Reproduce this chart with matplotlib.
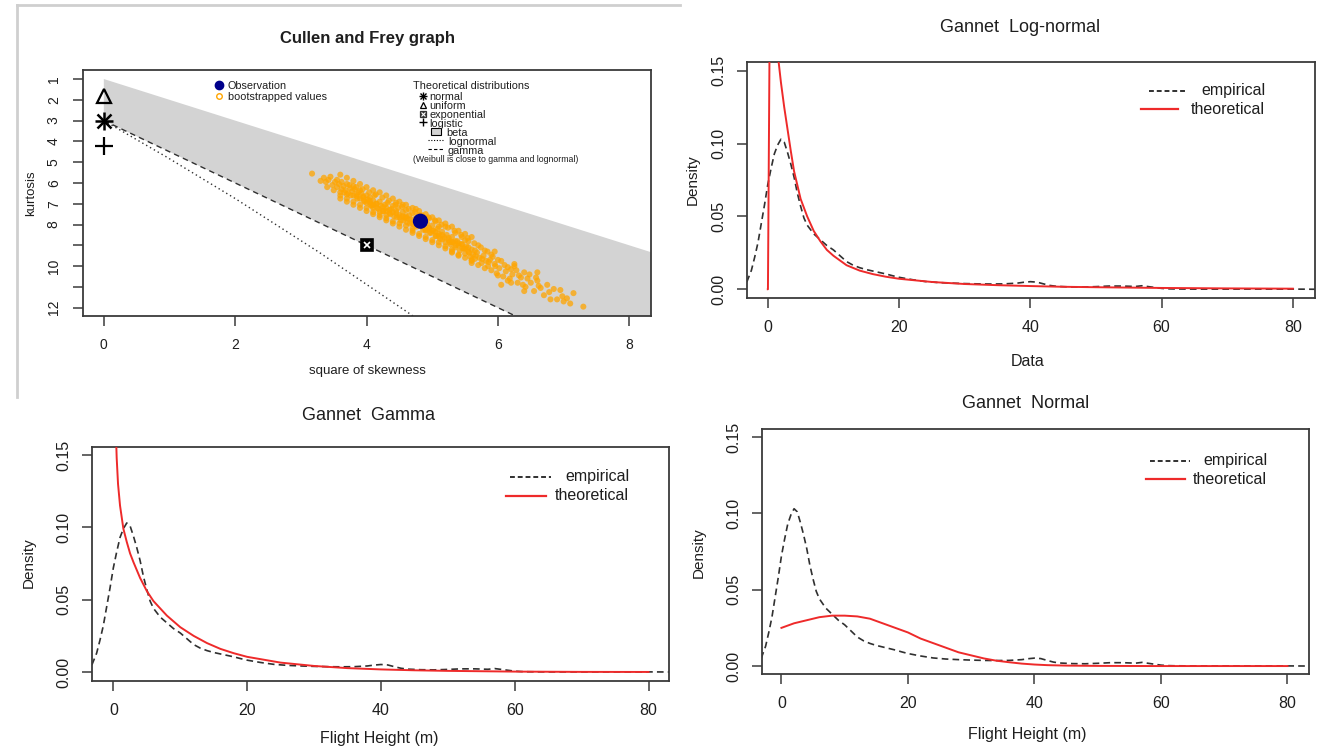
import matplotlib
matplotlib.use("Agg")
import matplotlib.pyplot as plt
from matplotlib.lines import Line2D
from matplotlib.patches import Polygon, Rectangle

plt.rcParams['font.family'] = ['Liberation Sans', 'DejaVu Sans']

# ---------------- data ----------------
# Cullen and Frey graph
beta_upper_s = [0.0, 9.0]
beta_upper_k = [1.0, 10.0]
gamma_line_s = [0.0, 9.0]
gamma_line_k = [3.0, 16.5]
lognorm_line_s = [0.0, 0.96, 2.0, 3.27, 4.62, 5.2]
lognorm_line_k = [3.0, 4.76, 6.75, 9.32, 12.21, 13.5]

obs_s, obs_k = [4.82], [7.84]
normal_pt = (0.0, 3.0)
uniform_pt = (0.0, 1.8)
logistic_pt = (0.0, 4.2)
expon_pt = (4.0, 9.0)

boot_s = [3.17, 3.35, 3.38, 3.42, 3.48, 3.52, 3.55, 3.58, 3.62, 3.65, 3.68, 3.70, 3.72, 3.75, 3.78,
          3.80, 3.82, 3.85, 3.88, 3.90, 3.92, 3.95, 3.97, 4.00, 4.02, 4.05, 4.05, 4.08, 4.10, 4.12,
          4.15, 4.18, 4.20, 4.22, 4.25, 4.28, 4.30, 4.32, 4.35, 4.38, 4.40, 4.42, 4.45, 4.48, 4.50,
          4.52, 4.55, 4.58, 4.60, 4.62, 4.65, 4.68, 4.70, 4.72, 4.75, 4.78, 4.80, 4.85, 4.88, 4.90,
          4.92, 4.95, 4.98, 5.00, 5.02, 5.05, 5.08, 5.10, 5.12, 5.15, 5.18, 5.20, 5.22, 5.25, 5.28,
          5.30, 5.32, 5.35, 5.38, 5.40, 5.42, 5.45, 5.48, 5.50, 5.52, 5.55, 5.58, 5.60, 5.62, 5.65,
          5.68, 5.72, 5.75, 5.78, 5.82, 5.85, 5.88, 5.90, 5.95, 5.98, 6.02, 6.08, 6.12, 6.18, 6.22,
          6.30, 6.35, 6.42, 6.50, 6.55, 6.62, 6.70, 6.78, 6.90, 6.98, 7.05, 7.30,
          3.60, 3.70, 3.80, 3.90, 4.00, 4.10, 4.20, 4.30, 4.40, 4.45, 4.55, 4.60, 4.70, 4.75, 4.85,
          4.95, 5.05, 5.10, 5.20, 5.30, 5.35, 5.45, 5.55, 5.60, 5.70, 5.80, 5.90, 6.00, 6.10, 6.20,
          6.25, 6.40, 6.45, 6.60, 6.85, 7.00, 7.15,
          3.95, 4.05, 4.15, 4.25, 4.35, 4.45, 4.55, 4.65, 4.75, 4.85, 4.95, 5.05, 5.15, 5.25, 5.35,
          5.45, 5.55, 5.65, 4.10, 4.30, 4.50, 4.70, 4.90, 5.10, 5.30, 5.50, 3.85, 4.60, 5.00, 5.40,
          3.30, 3.40, 3.45, 3.50, 3.55, 3.60, 3.62, 3.66, 3.70, 3.74, 3.76, 3.80, 3.84, 3.86, 3.90,
          3.94, 3.96, 4.00, 4.04, 4.06, 4.10, 4.14, 4.16, 4.20, 4.24, 4.26, 4.30, 4.34, 4.36, 4.40,
          4.44, 4.46, 4.50, 4.54, 4.56, 4.60, 4.64, 4.66, 4.70, 4.74, 4.76, 4.80, 4.84, 4.86, 4.90,
          4.94, 4.96, 5.00, 5.04, 5.06, 5.10, 5.14, 5.16, 5.20, 5.24, 5.26, 5.30, 5.34, 5.36, 5.40,
          5.44, 5.46, 5.50, 5.54, 5.56, 5.60, 5.64, 5.66, 5.70, 5.74, 5.76, 5.80, 5.84, 5.86, 5.92,
          5.96, 6.00, 6.05, 6.15, 6.20, 6.28, 6.32, 6.38, 6.48, 6.58, 6.65, 6.75, 6.95, 7.10,
          3.60, 3.60, 3.80, 3.80, 4.00, 4.00, 4.20, 4.20, 4.40, 4.40, 4.60, 4.60, 4.80, 4.80, 5.00,
          5.00, 5.20, 5.20, 5.40, 5.40, 5.60, 5.60, 3.70, 3.70, 3.90, 3.90, 4.10, 4.10, 4.30, 4.30,
          4.50, 4.50, 4.70, 4.70, 4.90, 4.90, 5.10, 5.10, 5.30, 5.30, 5.50, 5.50,
          6.05, 6.25, 6.40, 6.60, 6.80, 5.95, 6.15]
boot_k = [5.55, 5.75, 5.95, 5.85, 6.10, 5.95, 6.20, 6.05, 6.30, 6.15, 6.35, 6.05, 6.50, 6.25, 6.40,
          6.60, 6.30, 6.55, 6.45, 6.75, 6.50, 6.65, 6.90, 6.60, 6.80, 6.95, 6.70, 7.10, 6.85, 6.60,
          7.00, 7.25, 6.90, 7.10, 7.35, 7.05, 7.20, 6.95, 7.45, 7.25, 7.10, 7.60, 7.35, 7.20, 7.55,
          7.80, 7.40, 7.65, 7.30, 7.90, 7.55, 7.75, 7.45, 8.00, 7.70, 7.90, 7.55, 8.10, 7.85, 8.30,
          7.95, 8.15, 8.40, 8.05, 8.30, 8.55, 8.20, 8.45, 8.70, 8.35, 8.60, 8.85, 8.50, 8.75, 8.95,
          8.60, 8.85, 9.10, 8.80, 9.00, 9.25, 8.95, 9.15, 9.40, 9.05, 9.30, 9.55, 9.20, 9.45, 9.65,
          9.35, 9.60, 9.85, 9.50, 9.75, 10.00, 9.70, 10.20, 9.90, 10.35, 10.10, 10.50, 10.25, 10.60, 10.40,
          10.80, 10.55, 11.00, 10.80, 11.20, 10.95, 11.40, 11.25, 11.60, 11.45, 11.55, 11.95,
          6.45, 6.55, 6.15, 6.35, 6.95, 7.20, 7.40, 7.55, 7.85, 6.95, 7.05, 8.05, 8.20, 7.25, 7.60,
          7.70, 7.85, 8.85, 8.10, 9.20, 8.40, 8.60, 8.80, 9.70, 9.00, 9.25, 9.45, 9.70, 9.95, 10.15,
          9.90, 10.30, 10.60, 10.70, 11.10, 11.70, 11.30,
          6.70, 6.85, 7.00, 7.15, 7.30, 7.45, 7.60, 7.75, 7.90, 8.05, 8.20, 8.35, 8.50, 8.65, 8.80,
          8.95, 9.10, 9.25, 7.05, 7.35, 7.65, 7.95, 8.25, 8.55, 8.85, 9.15, 6.65, 7.70, 8.30, 8.90,
          5.90, 6.20, 5.70, 6.35, 5.85, 6.60, 5.95, 6.45, 6.75, 6.10, 6.60, 6.90, 6.20, 6.75, 7.05,
          6.30, 6.85, 7.20, 6.45, 7.05, 7.40, 6.55, 7.20, 7.55, 6.70, 7.35, 7.70, 6.85, 7.50, 7.40,
          7.05, 7.65, 7.95, 7.15, 7.80, 7.60, 7.25, 7.95, 8.30, 7.40, 8.10, 8.45, 7.55, 8.25, 8.60,
          7.65, 8.40, 8.75, 7.80, 8.55, 8.10, 8.00, 8.70, 9.05, 8.15, 8.85, 9.35, 8.30, 9.00, 9.50,
          8.50, 9.15, 8.75, 8.65, 9.35, 9.85, 8.90, 9.50, 9.95, 9.10, 9.65, 10.10, 9.30, 9.80, 9.55,
          10.00, 10.45, 9.75, 10.05, 10.80, 10.20, 10.45, 10.90, 10.40, 10.55, 11.05, 10.90, 11.15, 11.80,
          5.60, 6.75, 5.90, 7.05, 6.20, 7.35, 6.45, 7.65, 6.75, 7.95, 7.05, 8.25, 7.35, 8.55, 7.65,
          8.85, 7.95, 9.15, 8.30, 9.45, 8.60, 9.75, 5.75, 6.90, 6.05, 7.20, 6.35, 7.50, 6.60, 7.80,
          6.90, 8.10, 7.20, 8.40, 7.50, 8.70, 7.80, 9.00, 8.10, 9.30, 8.45, 9.60,
          10.90, 10.00, 11.20, 10.30, 11.60, 9.30, 10.70]

# Empirical density (same sample in all three fit panels)
emp_x = [-3.2, -2.5, -2, -1.5, -1, -0.5, 0, 0.5, 1, 1.5, 2, 2.5, 3, 3.5, 4, 4.5, 5, 5.5, 6, 7,
         8, 9, 10, 11, 12, 13, 14, 15, 16, 17, 18, 19, 20, 22, 24, 26, 28, 30, 32, 34,
         36, 38, 39, 40, 41, 42, 43, 44, 46, 48, 50, 52, 54, 56, 57, 58, 59, 60, 61, 62,
         65, 70, 75, 80, 82, 83.5]
emp_y = [0.005, 0.013, 0.022, 0.032, 0.045, 0.058, 0.072, 0.083, 0.093, 0.099, 0.103, 0.101, 0.094,
         0.086, 0.077, 0.066, 0.057, 0.049, 0.044, 0.038, 0.034, 0.030, 0.027, 0.023, 0.019, 0.0165,
         0.0148, 0.0135, 0.0125, 0.0115, 0.0105, 0.0093, 0.0082, 0.0066, 0.0053, 0.0046, 0.0042, 0.0039,
         0.0037, 0.0036, 0.0037, 0.0042, 0.0048, 0.0052, 0.0049, 0.0037, 0.0026, 0.002, 0.0016, 0.0015,
         0.0018, 0.0022, 0.0022, 0.0019, 0.0024, 0.0018, 0.0012, 0.0006, 0.0003, 0.0002, 0.0001,
         0.0001, 0.0001, 0.0001, 0.00005, 0.0]

# Theoretical densities
lnorm_x = [0.0, 0.02, 0.3, 0.7, 1.2, 1.6, 2, 2.5, 3, 3.5, 4, 5, 6, 7, 8, 9, 10, 12, 14, 16, 18,
           20, 25, 30, 35, 40, 45, 50, 60, 70, 80]
lnorm_y = [0.0, 0.0, 0.19, 0.23, 0.19, 0.158, 0.142, 0.125, 0.11, 0.095, 0.081, 0.062, 0.05, 0.04,
           0.033, 0.027, 0.023, 0.0165, 0.0128, 0.0104, 0.0086, 0.0072, 0.005, 0.0036, 0.0028,
           0.0022, 0.0017, 0.0014, 0.0009, 0.0006, 0.0004]

gamma_x = [0.35, 0.5, 0.7, 1.0, 1.5, 2, 2.5, 3, 4, 5, 6, 7, 8, 10, 12, 14, 16, 18, 20, 25, 30, 35,
           40, 45, 50, 60, 70, 80]
gamma_y = [0.17, 0.148, 0.13, 0.115, 0.099, 0.09, 0.082, 0.076, 0.065, 0.056, 0.049, 0.044, 0.039,
           0.031, 0.025, 0.020, 0.016, 0.013, 0.0105, 0.0065, 0.0042, 0.0027, 0.0018, 0.0012, 0.0008,
           0.0003, 0.0001, 0.00005]

normal_x = [0, 2, 4, 6, 8, 10, 12, 14, 16, 18, 20, 22, 24, 26, 28, 30, 32, 34, 36, 38, 40, 42,
            45, 50, 60, 80]
normal_y = [0.025, 0.028, 0.030, 0.032, 0.033, 0.033, 0.0325, 0.031, 0.028, 0.025, 0.022, 0.018,
            0.015, 0.012, 0.009, 0.007, 0.005, 0.0035, 0.0025, 0.0016, 0.001, 0.0006, 0.0003,
            0.0001, 0.0, 0.0]

density_ticks = [0.00, 0.05, 0.10, 0.15]
density_labels = ["0.00", "0.05", "0.10", "0.15"]
height_ticks = [0, 20, 40, 60, 80]
kurt_ticks = list(range(1, 13))
kurt_labels = ["1", "2", "3", "4", "5", "6", "7", "8", "", "10", "", "12"]
skew_ticks = [0, 2, 4, 6, 8]

# ---------------- layout helpers ----------------
W, H = 1331, 753
fig = plt.figure(figsize=(W / 100, H / 100), dpi=100)
fig.patch.set_facecolor('white')

def rect(l, t, r, b):
    return [l / W, 1 - b / H, (r - l) / W, (b - t) / H]

def fx(x):
    return x / W

def fy(y):
    return 1 - y / H

TXT = '#1e1e1e'
FRAME = '#3a3a3a'
RED = '#ee2a2a'
DASH = '#303030'

def style(ax, fs, padx, pady):
    for sp in ax.spines.values():
        sp.set_color(FRAME)
        sp.set_linewidth(1.3)
    ax.tick_params(direction='out', length=7, width=1.1, color=FRAME,
                   labelsize=fs, labelcolor=TXT)
    ax.tick_params(axis='x', pad=padx)
    ax.tick_params(axis='y', pad=pady, labelrotation=90)
    for lab in ax.get_yticklabels():
        lab.set_va('center')

# screenshot border of the first panel
fig.add_artist(Line2D([fx(17), fx(680)], [fy(5), fy(5)], color='#cfcfcf', lw=2))
fig.add_artist(Line2D([fx(17), fx(17)], [fy(5), fy(397)], color='#cfcfcf', lw=2))

# ---------------- Panel 1: Cullen and Frey ----------------
ax1 = fig.add_axes(rect(83, 70, 651, 316))
ax1.set_xlim(-0.317, 8.33)
ax1.set_ylim(12.4, 0.566)
poly = list(zip(beta_upper_s, beta_upper_k)) + list(zip(gamma_line_s, gamma_line_k))[::-1]
ax1.add_patch(Polygon(poly, closed=True, facecolor='#d3d3d3', edgecolor='none', zorder=1))
ax1.plot(gamma_line_s, gamma_line_k, color=DASH, lw=1.0, dashes=(4, 3), zorder=2)
ax1.plot(lognorm_line_s, lognorm_line_k, color=DASH, lw=1.0, dashes=(1, 2.2), zorder=2)
ax1.scatter(boot_s, boot_k, s=19, color='#ffa500', alpha=0.75, edgecolors='none', zorder=3)
ax1.scatter(obs_s, obs_k, s=120, color='#00008b', edgecolors='none', zorder=4)
ax1.plot([normal_pt[0]], [normal_pt[1]], marker='+', ms=13, mew=1.8, color='black', zorder=5, clip_on=False)
ax1.plot([normal_pt[0]], [normal_pt[1]], marker='x', ms=10, mew=1.8, color='black', zorder=5, clip_on=False)
ax1.plot([uniform_pt[0]], [uniform_pt[1]], marker='^', ms=10, mew=1.6, mfc='none', color='black', zorder=5)
ax1.plot([logistic_pt[0]], [logistic_pt[1]], marker='+', ms=13, mew=1.6, color='black', zorder=5)
ax1.plot([expon_pt[0]], [expon_pt[1]], marker='s', ms=9, mew=1.2, color='black', zorder=5)
ax1.plot([expon_pt[0]], [expon_pt[1]], marker='x', ms=5, mew=1.2, color='white', zorder=6)
ax1.set_xticks(skew_ticks)
ax1.set_xticklabels([str(t) for t in skew_ticks])
ax1.set_yticks(kurt_ticks)
ax1.set_yticklabels(kurt_labels)
style(ax1, 10, 9, 9)

fig.text(fx(367), fy(39), "Cullen and Frey graph", ha='center', va='center',
         fontsize=12, fontweight='bold', color=TXT)
fig.text(fx(367), fy(371), "square of skewness", ha='center', va='center', fontsize=9.5, color=TXT)
fig.text(fx(31), fy(193), "kurtosis", ha='center', va='center', fontsize=9.5, rotation=90, color=TXT)

# legend of panel 1 (drawn by hand, R style)
LFS = 7.8
def fmark(x, y, **kw):
    fig.add_artist(Line2D([fx(x)], [fy(y)], linestyle='none', **kw))

fmark(219, 85, marker='o', ms=6, color='#00008b')
fig.text(fx(228), fy(86), "Observation", ha='left', va='center', fontsize=LFS, color=TXT)
fmark(219, 96, marker='o', ms=4, mfc='none', mec='#ffa500', mew=1)
fig.text(fx(228), fy(97), "bootstrapped values", ha='left', va='center', fontsize=LFS, color=TXT)

fig.text(fx(413), fy(86), "Theoretical distributions", ha='left', va='center', fontsize=LFS, color=TXT)
fmark(423, 96, marker='+', ms=6, mew=1, color='black')
fmark(423, 96, marker='x', ms=4.5, mew=1, color='black')
fig.text(fx(429), fy(97.5), "normal", ha='left', va='center', fontsize=LFS, color=TXT)
fmark(423, 104.5, marker='^', ms=5, mfc='none', mew=0.9, color='black')
fig.text(fx(429), fy(106), "uniform", ha='left', va='center', fontsize=LFS, color=TXT)
fmark(423, 114, marker='s', ms=5, mew=0.9, color='#333333')
fmark(423, 114, marker='x', ms=3, mew=0.8, color='white')
fig.text(fx(429), fy(115.5), "exponential", ha='left', va='center', fontsize=LFS, color=TXT)
fmark(423, 122, marker='+', ms=6, mew=1, color='black')
fig.text(fx(429), fy(124), "logistic", ha='left', va='center', fontsize=LFS, color=TXT)
fig.add_artist(Rectangle((fx(431), fy(135)), 10 / W, 7 / H, facecolor='#d3d3d3',
                         edgecolor='black', lw=0.8))
fig.text(fx(446), fy(133), "beta", ha='left', va='center', fontsize=LFS, color=TXT)
fig.add_artist(Line2D([fx(428), fx(443)], [fy(140), fy(140)], color='black', lw=0.8, dashes=(1, 1.5)))
fig.text(fx(448), fy(142), "lognormal", ha='left', va='center', fontsize=LFS, color=TXT)
fig.add_artist(Line2D([fx(428), fx(443)], [fy(149), fy(149)], color='black', lw=0.8, dashes=(3, 2)))
fig.text(fx(448), fy(151), "gamma", ha='left', va='center', fontsize=LFS, color=TXT)
fig.text(fx(413), fy(159), "(Weibull is close to gamma and lognormal)", ha='left', va='center',
         fontsize=6.3, color=TXT)

# ---------------- fit panels ----------------
def fit_panel(r, xlim, ylim, theo_x, theo_y, title, tpos, xlab, xlpos, ylpos, leg):
    ax = fig.add_axes(rect(*r))
    ax.set_xlim(*xlim)
    ax.set_ylim(*ylim)
    ax.plot(emp_x, emp_y, color=DASH, lw=1.2, dashes=(4, 2.5), zorder=2)
    ax.plot(theo_x, theo_y, color=RED, lw=1.4, zorder=3)
    ax.set_xticks(height_ticks)
    ax.set_xticklabels([str(t) for t in height_ticks])
    ax.set_yticks(density_ticks)
    ax.set_yticklabels(density_labels)
    style(ax, 11.5, 9, 8)
    fig.text(fx(tpos[0]), fy(tpos[1]), title, ha='center', va='center', fontsize=13, color=TXT)
    fig.text(fx(xlpos[0]), fy(xlpos[1]), xlab, ha='center', va='center', fontsize=11.5, color=TXT)
    fig.text(fx(ylpos[0]), fy(ylpos[1]), "Density", ha='center', va='center', fontsize=11,
             rotation=90, color=TXT)
    (d0, d1, dy), (r0, r1, ry), tr = leg
    fig.add_artist(Line2D([fx(d0), fx(d1)], [fy(dy), fy(dy)], color=DASH, lw=1.4, dashes=(2.5, 1.5)))
    fig.text(fx(tr), fy(dy), "empirical", ha='right', va='center', fontsize=11.5, color=TXT)
    fig.add_artist(Line2D([fx(r0), fx(r1)], [fy(ry), fy(ry)], color=RED, lw=1.6))
    fig.text(fx(tr), fy(ry), "theoretical", ha='right', va='center', fontsize=11.5, color=TXT)
    return ax

fit_panel((747, 62, 1315, 298), (-3.17, 83.37), (-0.006, 0.156),
          lnorm_x, lnorm_y, "Gannet  Log-normal", (1020, 28), "Data", (1028, 362), (693, 180),
          ((1149, 1185, 91), (1141, 1178, 109), 1265))
fit_panel((92, 447, 669, 681), (-3.19, 83.06), (-0.0062, 0.1555),
          gamma_x, gamma_y, "Gannet  Gamma", (369, 416), "Flight Height (m)", (379, 738), (29, 563),
          ((510, 551, 477), (506, 546, 496), 629))
fit_panel((762, 429, 1309, 674), (-3.07, 83.4), (-0.0052, 0.1552),
          normal_x, normal_y, "Gannet  Normal", (1026, 403), "Flight Height (m)", (1027, 735), (699, 553),
          ((1150, 1190, 461), (1146, 1185, 479), 1267))

fig.savefig("out.png", dpi=100, facecolor='white')
